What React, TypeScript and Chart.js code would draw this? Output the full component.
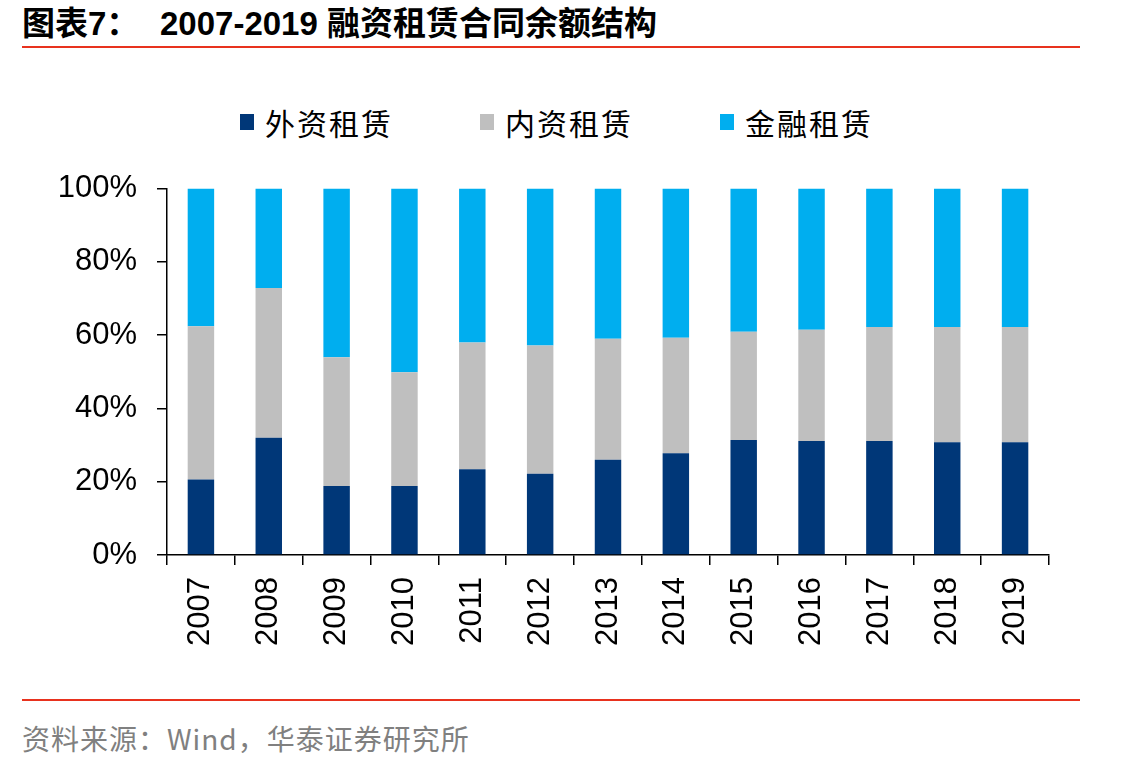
import React, { useEffect, useRef } from "react";
import { Chart, registerables } from "chart.js";

Chart.register(...registerables);

// Years on the category axis
const years = ["2007", "2008", "2009", "2010", "2011", "2012", "2013", "2014", "2015", "2016", "2017", "2018", "2019"];

// Share of total balance, % (each year sums to 100)
const foreignLeasing = [20.6, 32.0, 18.8, 18.8, 23.4, 22.2, 26.0, 27.8, 31.4, 31.1, 31.1, 30.8, 30.8];
const domesticLeasing = [41.8, 40.9, 35.2, 31.1, 34.6, 35.0, 33.0, 31.5, 29.5, 30.4, 31.1, 31.4, 31.4];
const financialLeasing = [37.6, 27.1, 46.0, 50.1, 42.0, 42.8, 41.0, 40.7, 39.1, 38.5, 37.8, 37.8, 37.8];

const seriesNames = ["外资租赁", "内资租赁", "金融租赁"];
const seriesColors = ["#003778", "#BFBFBF", "#00AEEF"];

const yTicks = [0, 20, 40, 60, 80, 100];

const TICK_FONT = { family: "'Liberation Sans', Arial, sans-serif", size: 31 };

export default function App() {
  const canvasRef = useRef<HTMLCanvasElement | null>(null);

  useEffect(() => {
    document.body.style.margin = "0";
    const ctx = canvasRef.current;
    if (!ctx) return;
    const values = [foreignLeasing, domesticLeasing, financialLeasing];
    const chart = new Chart(ctx, {
      type: "bar",
      data: {
        labels: years,
        datasets: values.map((v, i) => ({
          label: seriesNames[i],
          data: v,
          backgroundColor: seriesColors[i],
          borderWidth: 0,
          categoryPercentage: 1,
          barPercentage: 0.39,
        })),
      },
      options: {
        animation: false,
        responsive: false,
        maintainAspectRatio: false,
        layout: { padding: { top: 32, right: 88, bottom: 0, left: 0 } },
        plugins: { legend: { display: false }, tooltip: { enabled: false } },
        scales: {
          x: {
            stacked: true,
            grid: { display: true, drawOnChartArea: false, offset: true, tickLength: 10, color: "#000", lineWidth: 1.5 },
            border: { display: true, color: "#000", width: 1.5 },
            ticks: {
              color: "#000",
              font: TICK_FONT,
              minRotation: 90,
              maxRotation: 90,
              autoSkip: false,
              padding: 12,
            },
            afterFit: (scale: any) => {
              scale.height = 125;
            },
          },
          y: {
            stacked: true,
            min: 0,
            max: 100,
            grid: { display: true, drawOnChartArea: false, tickLength: 10, color: "#000", lineWidth: 1.5 },
            border: { display: true, color: "#000", width: 1.5 },
            afterBuildTicks: (scale: any) => {
              scale.ticks = yTicks.map((v) => ({ value: v }));
            },
            ticks: {
              color: "#000",
              font: TICK_FONT,
              padding: 20,
              callback: (v: any) => `${v}%`,
            },
            afterFit: (scale: any) => {
              scale.width = 167;
            },
          },
        },
      },
    });
    return () => chart.destroy();
  }, []);

  const cjk = "'Liberation Sans', 'Noto Sans CJK SC', sans-serif";

  return (
    <div style={{ position: "absolute", left: 0, top: 0, width: 1137, height: 768, background: "#fff", overflow: "hidden" }}>
      <div style={{ position: "absolute", left: 22, top: 4, fontFamily: cjk, fontWeight: 700, fontSize: 33, lineHeight: "40px", color: "#000", whiteSpace: "nowrap" }}>
        图表7：
      </div>
      <div style={{ position: "absolute", left: 160, top: 4, fontFamily: cjk, fontWeight: 700, fontSize: 33, lineHeight: "40px", color: "#000", whiteSpace: "nowrap" }}>
        2007-2019 融资租赁合同余额结构
      </div>
      <div style={{ position: "absolute", left: 22, top: 46, width: 1058, height: 2, background: "#E8321E" }} />

      {seriesNames.map((name, i) => (
        <div key={name} style={{ position: "absolute", left: 240 + i * 240, top: 102, height: 40, display: "flex", alignItems: "center", whiteSpace: "nowrap" }}>
          <span style={{ display: "inline-block", width: 14, height: 16, background: seriesColors[i], marginRight: 11 }} />
          <span style={{ fontFamily: "'Noto Sans CJK SC', sans-serif", fontSize: 30, color: "#000", letterSpacing: 2 }}>{name}</span>
        </div>
      ))}

      <div style={{ position: "absolute", left: 0, top: 150, width: 1137, height: 530 }}>
        <canvas ref={canvasRef} width={1137} height={530} style={{ display: "block", width: 1137, height: 530 }} />
      </div>

      <div style={{ position: "absolute", left: 22, top: 699, width: 1058, height: 2, background: "#E8321E" }} />
      <div style={{ position: "absolute", left: 22, top: 719, fontFamily: "'Noto Sans CJK SC', 'Liberation Sans', sans-serif", fontSize: 28, lineHeight: "38px", color: "#808080", whiteSpace: "nowrap", letterSpacing: 1 }}>
        资料来源：Wind，华泰证券研究所
      </div>
    </div>
  );
}
